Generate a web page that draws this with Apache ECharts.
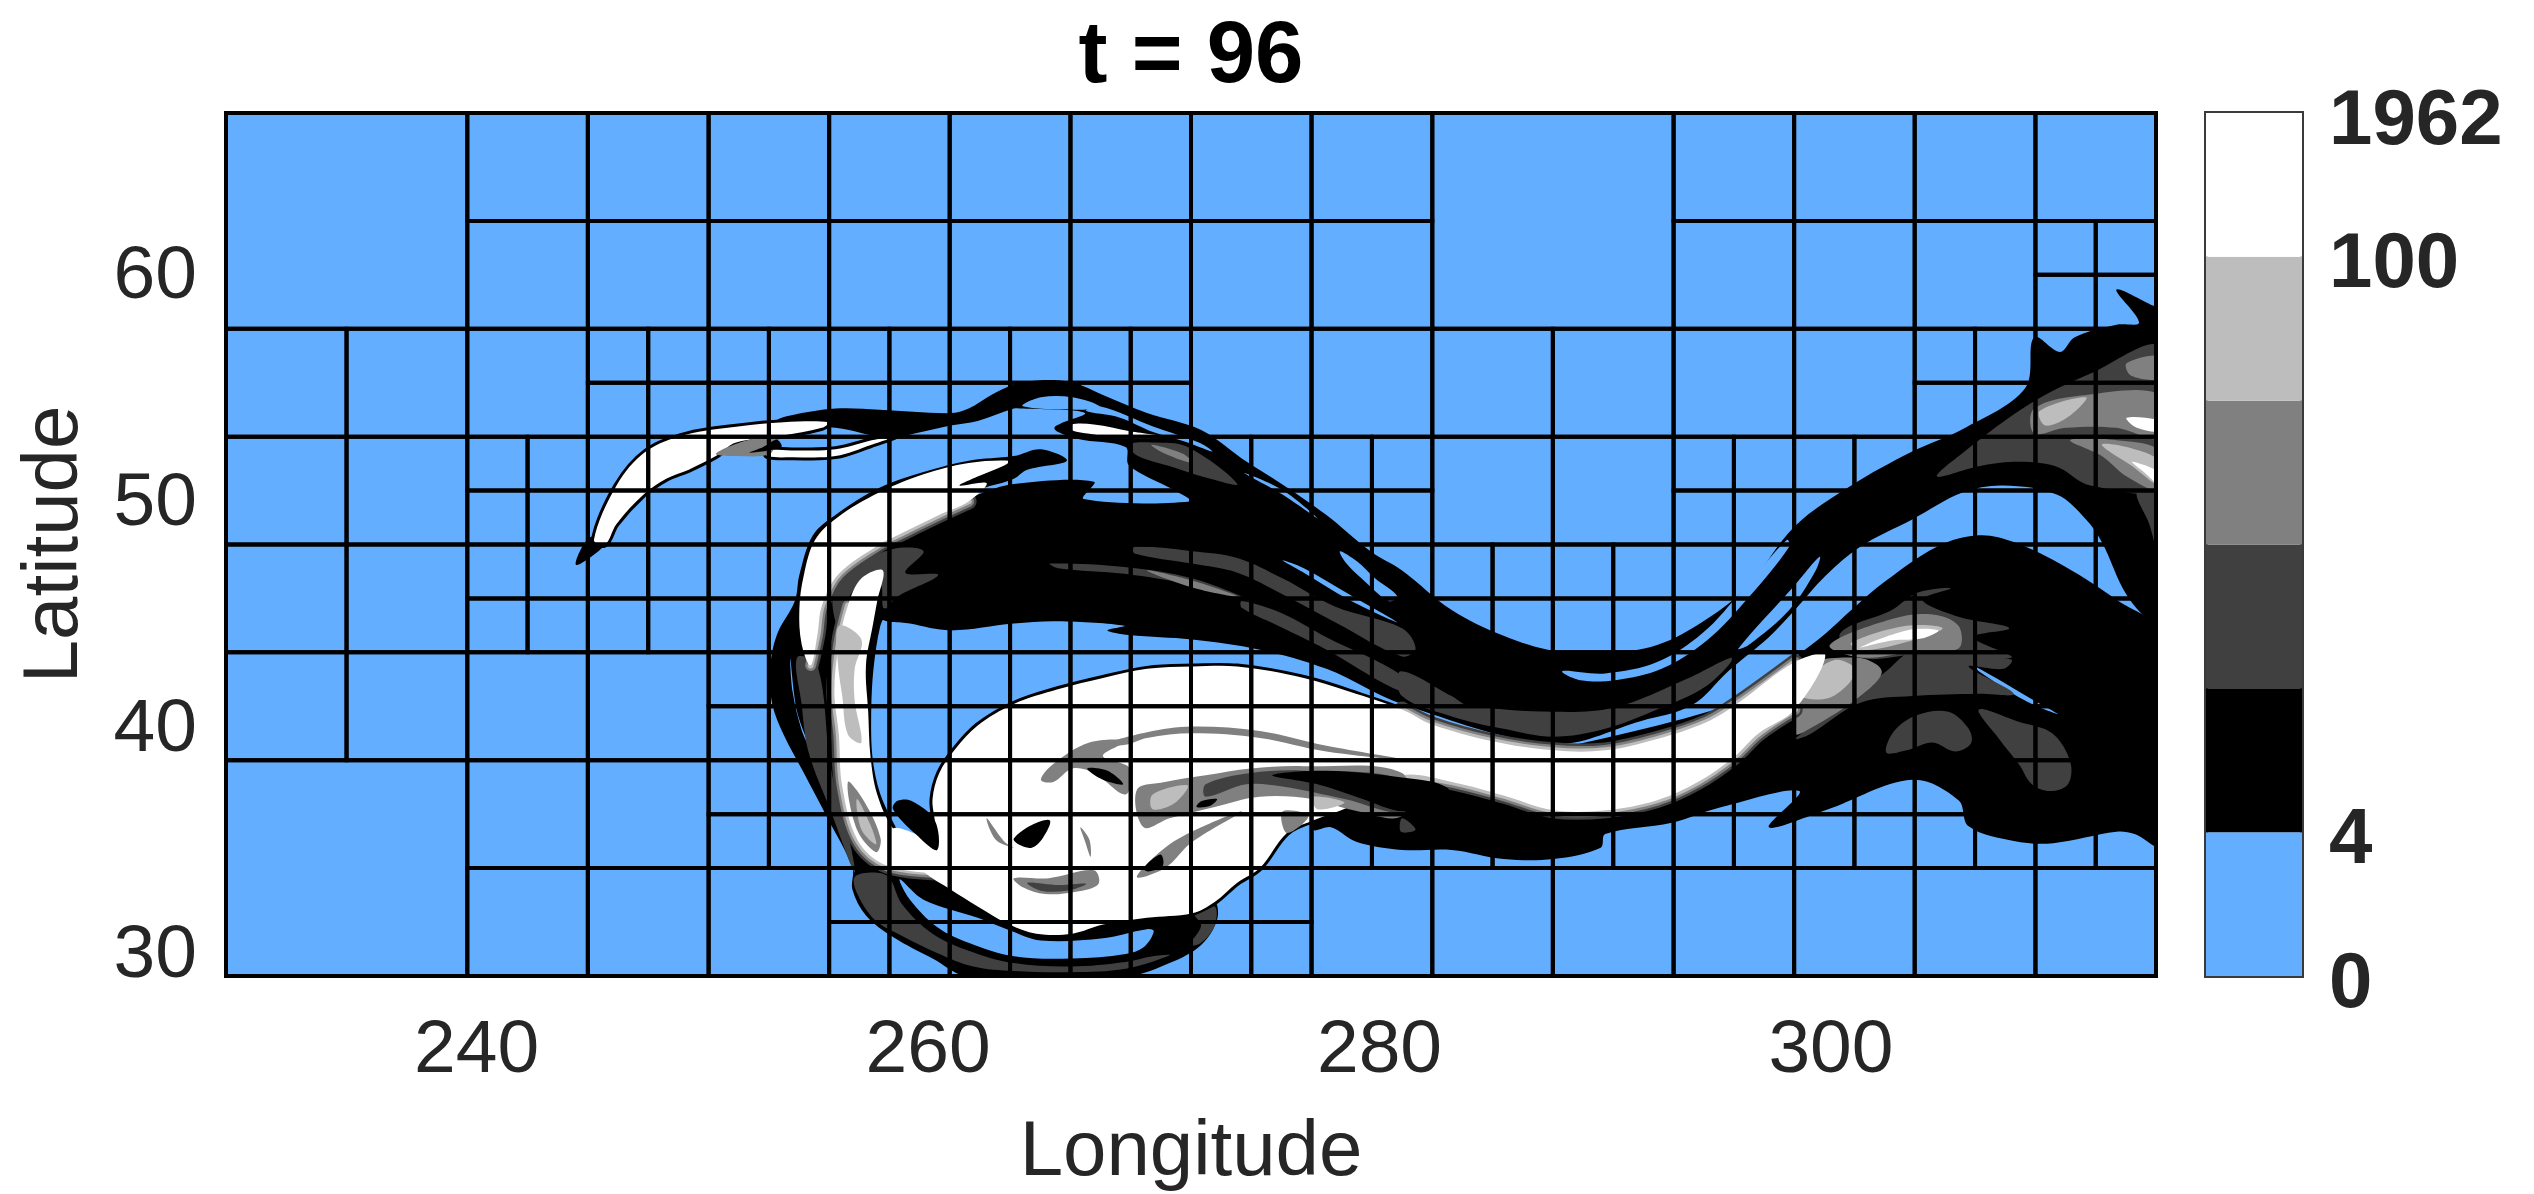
<!DOCTYPE html>
<html><head><meta charset="utf-8">
<style>html,body{margin:0;padding:0;background:#fff}#c{width:2534px;height:1194px}</style>
<script src="https://cdn.jsdelivr.net/npm/echarts@6/dist/echarts.min.js"></script>
</head><body><div id="c"></div>
<script>
// ---------- tick labels and colour-bar data ----------
const lonTicks = [240, 260, 280, 300];
const latTicks = [30, 40, 50, 60];
const bandLabels = { 0: '0', 1: '4', 5: '100', 6: '1962' };
const bandWidths = [1, 1, 1, 1, 1, 1];
// ---------- mesh (adaptive grid) ----------
const lonEdges = [228.9,234.24,239.59,244.93,250.28,255.62,260.96,266.31,271.65,276.99,282.34,287.68,293.03,298.37,303.71,309.06,314.4];
const latEdges = [67.06,62.29,57.53,52.76,47.995,43.23,38.46,33.7,28.93];
const meshLevels = [
 '0011111111001111',
 '0011111111001112',
 '1112222211111122',
 '1122222222112222',
 '1122222222222222',
 '1111222222222222',
 '0011222222222222',
 '0011122221111111'
];
// ---------- field contours, [lon, lat] ----------
const bandBlack = [[253.3,53.5],[253.9,53.7],[255.9,54.0],[257.85,53.95],[261.0,53.8],[261.8,54.0],[262.8,54.6],[263.8,55.05],[265,55.25],[266.4,55.15],[267.75,54.6],[269.7,53.8],[272.1,53.05],[273.9,51.8],[275.7,50.65],[277.65,49.3],[279.6,47.7],[281,46.85],[283.2,45.1],[285.5,43.96],[287.7,43.3],[290,43.2],[292.3,43.55],[294.5,44.7],[296.35,46.2],[298.4,48.8],[300.9,50.6],[303.6,52.1],[305.85,53.1],[308.6,54.9],[309.0,57.15],[310.15,56.5],[310.8,57.15],[312.65,57.7],[313.65,57.8],[312.65,59.26],[314.4,58.5],[314.6,58.5],[314.6,44.3],[314.4,44.3],[313.1,45.76],[312,48.1],[311.3,49.1],[310,50.2],[307.65,50.6],[305.85,50.3],[303.6,49.1],[301.3,47.9],[299.75,46.6],[298.4,45.1],[297.25,43.9],[295.45,42.4],[293.85,40.9],[291.6,40.2],[287.7,39.2],[281,40.95],[277.65,42.5],[274.7,43.35],[271.7,43.8],[268.9,44],[267.95,44.2],[268.7,44.4],[265.75,44.6],[263.8,44.5],[261,44.2],[259.2,44.5],[257.85,44.8],[258.2,46.5],[258.45,47.8],[260.6,49.5],[262.2,50.2],[263.8,50.67],[267.35,50.77],[266.9,50],[271.6,49.9],[270.9,50.4],[268.9,51.5],[268.75,52.3],[266.6,52.67],[265.6,53.15],[266.95,53.8],[264.2,54.0],[263.8,54],[262.2,53.45],[261,53.25],[259.4,52.9],[258.25,52.7],[255.9,53.15],[253.3,53.3]];
const lowerBlack = [[277.05,36.4],[295.9,41],[298.4,43],[299.75,44.05],[300.9,45.1],[302.45,46.4],[304.7,47.9],[306.55,48.4],[308.1,48.1],[310.4,47],[312.65,45.55],[314.6,44],[314.6,34.7],[313.45,35.2],[312.65,35.3],[309.85,34.8],[308.1,34.9],[306.1,35.55],[305.65,36.7],[303.6,37.6],[299.75,36.25],[297.25,35.5],[298.6,37.1],[295,36.35],[292.95,35.7],[290,35.2],[289.8,34.6],[287.7,34.1],[285.5,34.1],[283.2,34.5],[281,34.5],[279,34.85],[277.85,35.5],[277.05,35.4]];
const arcBlack = [[263.8,51.9],[261.8,51.7],[259.8,51.2],[257.85,50.5],[255.9,49.3],[254.9,48.4],[254.3,46.65],[254.1,45.5],[253.3,44],[253,42.5],[253.1,40.95],[253.6,39.6],[254.5,37.9],[255.5,36],[256.65,33.7],[256.65,32.75],[257.25,31.6],[258.45,30.65],[260.2,29.7],[261.8,28.9],[268.75,28.9],[270.7,29.5],[272.1,30.3],[272.8,31.4],[272.7,32.2],[271.7,32],[265.75,31.6],[262.2,32.2],[259.8,33.7],[258.45,35.45],[257.75,36.95],[257.4,38.65],[257.35,40.6],[257.45,42.5],[257.75,44.4],[258.05,45.05],[261.8,50.1],[263.8,50.9],[264.4,51.3],[266.15,51.7],[265,52.2]];
const tailTip = [[244.4,47.1],[245.0,48.3],[245.8,48.2],[245.4,47.7]];
const triangleBlack = [[258.65,36.67],[259.25,36.67],[260.3,35.8],[260.4,34.5],[259.45,35.2],[258.45,36.3]];
const holeTop = [[264.2,54.1],[265,54.5],[266.4,54.5],[267.6,54.1],[266.9,53.95]];
const slitTop = [[267.6,54.1],[270,53.2],[272,52.5],[272.6,52.1],[271.5,52.5],[270,52.95],[268.5,53.6],[267,53.9]];
const slitA = [[274,51.15],[275.7,50.2],[277.25,49.15],[275.7,50.4]];
const slitB = [[275.7,47.3],[276.65,46.95],[278.65,45.8],[280.8,44.55],[278.65,45.55],[276.65,46.75]];
const slitC = [[278.25,47.7],[279,47.25],[279.8,46.5],[280.8,45.7],[280.4,45.5],[279.2,46.5],[278.5,47.2]];
const slitD = [[288.1,42.4],[290,42.3],[292.3,42.8],[294.3,44.07],[296.1,46],[298.05,48.2],[298.15,47.9],[296.35,45.65],[294.5,43.75],[292.5,42.5],[290.45,42],[288.9,42]];
const slitE = [[295.9,43.4],[298.4,46.2],[299.5,47.45],[299.3,46.8],[298.15,45.1],[296.35,43.55]];
const slitF = [[306.4,42.6],[309,41.1],[310.05,40.5],[308.6,41.1],[306.55,42.4]];
const holeLower = [[258.75,33.2],[259.8,32.3],[262.2,31.5],[263.6,30.95],[265,30.5],[267.75,30.6],[269.7,31],[270,30.9],[269.55,30.2],[268.75,29.9],[266.4,29.7],[263.8,29.8],[261.8,30.4],[260.4,31.1],[259.2,32.3]];
const slitArc = [[253.9,42.95],[254,41.5],[254.4,39.8],[254.8,38.95],[254.2,40.6]];
const darkUpper = [[268.9,52.4],[269.9,52.5],[271.5,52.3],[273.7,50.67],[272.3,50.95],[270.9,51.4],[269.3,51.9]];
const darkRibbon1 = [[269.15,47.9],[271.7,47.7],[273.7,47.4],[275.7,46.5],[278.05,45.25],[281,44.3],[281.6,43.4],[281,43.05],[278.05,44.55],[275.7,45.8],[273.7,46.75],[271.7,47.15],[269.15,47.6]];
const darkRibbon2 = [[265.4,47.15],[268.7,47],[271.7,46.5],[274.3,45.5],[271.7,46.2],[268.7,46.7],[265.75,46.95]];
const darkRibbon3 = [[273.9,45.5],[275.7,44.95],[277.65,43.9],[281,42.2],[281,41.5],[277.65,43.35],[275.3,44.5],[273.9,45.2]];
const darkRibbon4 = [[283.9,40.9],[287.7,40.6],[290.45,40.8],[293.6,42.05],[295.65,43],[294.5,41.75],[292.3,40.7],[290,39.85],[287.7,39.5],[285.5,39.85],[283.2,40.4],[281,41.3],[280.95,42.4],[283.2,41.3]];
const darkSpot = [[281,35.9],[281.6,35.4],[280.95,35.3]];
const darkNE = [[304.7,51],[305.85,52.05],[308.8,54.2],[311.5,55.55],[314.6,56.7],[314.6,50.6],[311.5,50.6],[309.95,51.45],[308.1,51.65],[306.55,51.45]];
const darkEdge = [[313.55,50.3],[314.6,50.2],[314.6,47.25],[314.1,48.9]];
const darkLobe1 = [[302.45,38.8],[302.8,39.75],[303.8,40.45],[305.2,40.6],[306.1,39.85],[306.2,39.2],[305.5,38.85],[304.5,39.25],[303.35,38.9]];
const darkLobe2 = [[306.55,40.7],[308.35,40.15],[309.8,39.65],[310.6,38.4],[310.5,37.4],[309.7,37.1],[308.9,37.4],[308.35,38.25],[307.45,39.4]];
const darkJetEnd = [[300.2,40.7],[302.45,42.4],[303.6,43.25],[306.55,43],[308,42.9],[307.65,42.5],[306.1,42.6],[308.1,41.4],[306.55,41.4],[303.6,41.3],[301.3,41],[299.05,39.6],[298.4,39.4]];
const darkJetTop = [[300.4,44.05],[302.7,45.1],[303.8,45.85],[305.3,46.05],[304.05,45.55],[305.65,44.8],[307.9,44.3],[306.3,43.9],[308,43],[303.6,43.1],[301.3,43]];
const darkLowerRibbon = [[256.75,33.3],[256.85,32.6],[257.65,31.4],[258.85,30.7],[260.4,29.95],[262,29.35],[263.8,29.15],[266.35,29.1],[268.75,29.25],[270.7,29.85],[269.95,29.8],[268.75,29.55],[266.35,29.35],[263.8,29.5],[261.8,30.05],[260.2,30.8],[258.85,32.1],[258.25,33.3],[257.55,33.5]];
const darkLowerRight = [[271.8,31.7],[272.7,32],[272.7,31.15],[272.1,30.4],[271.6,30.3],[272.1,31.15]];
const darkArc = [[255.85,46.1],[256.85,47.05],[258.45,47.8],[259.8,47.7],[259,46.75],[260.45,46.65],[258.65,45.7],[258.05,45.15],[257.85,46.3],[256.65,45.9],[256.25,44.6],[255.9,44.6]];
const darkArcOuter = [[254.2,43],[255.1,42.65],[255.7,38.1],[256.45,35.25],[256.75,33.5],[255.7,36.2],[254.7,38.85],[254.4,40.95]];
const grayUpper = [[269.9,52.4],[271.3,52],[271.7,51.6],[270.5,52.0]];
const grayRibbon = [[269.7,46.85],[271.7,46.4],[273.7,45.7],[271.7,46.1]];
const grayNE1 = [[313.1,56],[314.6,56.3],[314.6,55.35],[313.3,55.45]];
const grayNE2 = [[309,54],[311.3,54.6],[314.6,54.6],[314.6,52.7],[312.65,53.15],[310.4,53.15],[309,52.9]];
const grayNE3 = [[310.6,52.6],[312.65,52.6],[314.6,52.1],[314.6,50.4],[313.1,51],[312,51.9]];
const grayJetTop = [[299.95,43.55],[302.7,44.7],[304.5,44.9],[305.65,44.4],[305.65,43.4],[303.6,43.25],[301.3,43]];
const grayJetMid = [[298.4,42.4],[301.1,43],[302.25,42.4],[301.3,41.3],[299.05,39.85],[298.4,39.65]];
const grayArcSmudge = [[256.45,37.5],[257.2,36.6],[257.9,35],[257.7,34.4],[256.85,35.4]];
const lightNE1 = [[309.25,53.9],[311.3,54.5],[310.6,53.7],[309.5,53.25]];
const lightNE3 = [[312,52.4],[313.1,52.3],[314.6,51.65],[314.6,50.6],[313.35,51.45]];
const lightJetTop = [[300.9,43.65],[303.35,44.4],[304.95,44.3],[303.6,43.75],[301.3,43.3]];
const lightJetMid = [[298.85,41.95],[300.2,42.9],[301.1,42.4],[300,41.25],[298.6,41.3]];
const lightArcStreak = [[256.05,44.4],[257.05,43.8],[256.75,42.5],[256.75,41.1],[257.05,39.25],[256.45,39.6],[256.2,41.3],[256,42.85]];
const lightArcSmudge = [[256.85,36.75],[257.45,35.6],[257.7,34.75],[257.05,35.4]];
const tailWhite = [[245.2,48.2],[246.2,50.6],[247.5,52.1],[249.3,52.85],[251.5,53.2],[253.6,53.4],[255.6,53.4],[255.3,53.15],[253.5,52.8],[251.5,52.5],[250.6,51.9],[249.4,51.3],[248.4,50.9],[247.4,50.2],[246.2,48.9],[245.7,48.0]];
const tailStrand = [[252.8,52.15],[254.0,52.15],[255.9,52.2],[257.5,52.6],[258.6,52.8],[257.5,52.4],[255.9,51.9],[254.0,51.85],[252.9,51.9]];
const streakWhite = [[266.35,53.3],[267.35,53.3],[268.95,53],[270.5,52.75],[268.95,52.67],[267.35,52.86],[266.35,53.05]];
const jetWhite = [[260.3,35.8],[260.2,36.75],[260.5,37.9],[261.2,38.95],[262.2,40],[263.8,40.95],[265.75,41.6],[267.75,42.1],[269.7,42.5],[271.7,42.6],[273.7,42.6],[276.65,42.1],[278.65,41.5],[281,40.7],[282.3,40.05],[285,39.3],[287.7,38.9],[290,38.9],[292.3,39.4],[294.5,40.15],[295.9,41],[298.4,42.8],[299.75,43.1],[298.4,40.7],[296.8,39.65],[295.7,38.6],[294.1,37.5],[292.3,36.7],[290,36.25],[287.7,36.25],[285.5,36.9],[283.2,37.5],[281,37.8],[279.5,36.9],[278.65,36.4],[277.05,35.8],[275.9,35.25],[274.7,33.7],[273.7,33.05],[272.7,32.2],[271.7,31.7],[269.7,31.5],[267.75,31.2],[266.4,30.8],[264.8,30.8],[263.6,31.2],[262.2,32],[261,32.75],[259.85,33.5],[258.85,34.6],[258.45,35.45],[259.45,35.2],[260.4,34.5]];
const crescentWhite = [[263.6,51.7],[261.8,51.6],[259.8,51.1],[257.85,50.3],[256,49.2],[255,48.2],[254.5,46.65],[254.3,45.15],[254.4,43.6],[254.8,42.65],[255.1,44],[255.3,45.3],[256.05,46.7],[257.85,48],[258.65,48.4],[260.6,49.35],[261.8,49.9],[262.6,50.7],[261.4,50.6],[262.2,51],[263.4,51.5]];
const arcInnerWhite = [[257.05,46.5],[258,46.85],[257.75,45.5],[257.55,44.4],[257.25,42.65],[257.35,40.6],[257.45,38.65],[257.75,36.95],[258.45,35.45],[259.85,33.95],[260.6,33.5],[258.2,33.8],[256.9,34.9],[256.2,37.3],[256.05,39.6],[255.85,41.5],[256.05,43.6],[256.45,45.3]];
const whiteJetTop = [[301.3,43.45],[303.35,44.2],[304.75,44.2],[304.05,43.85],[302.7,43.75]];
const whiteNE2 = [[313.1,53.6],[314.6,53.45],[314.6,53],[313.55,53.15]];
const whiteNE3 = [[313.35,51.65],[314.6,51.15],[314.6,50.6],[313.8,51.25]];
// blob interior, painted over the white
const blobThinLine = [[267.75,39.15],[269.7,39.7],[271.7,39.95],[274.7,39.75],[277.65,39.1],[281,38.5],[277.65,38.85],[274.7,39.45],[271.7,39.65],[269.7,39.45],[268.75,39.15]];
const blobThickGray = [[265,37.6],[265.55,38.3],[267.15,39.25],[268.75,39.3],[267.75,38.65],[268.95,38.1],[268.75,36.95],[267.35,37.9],[266.4,38.1],[265.55,37.5]];
const blobBandGray = [[269.25,37.15],[270.5,37.5],[272.3,37.8],[274.3,38.1],[276.65,38.2],[281,37.9],[281,36],[278.65,36.3],[277.05,36.75],[274.7,36.85],[272.7,36.4],[270.7,35.9],[269.55,35.5]];
const blobBandDark = [[272.3,37.4],[274.3,37.9],[276.65,38],[281,37.6],[281,36.2],[278.45,36.75],[275.7,37.3],[274.1,37.4],[272.3,36.85]];
const blobBandLight = [[269.95,36.95],[271.5,37.35],[270.9,36.55],[269.95,36.3]];
const blobBandLight2 = [[277.05,36.85],[278.45,36.6],[277.25,36.3]];
const blobTongue = [[275.25,37.8],[277.65,38],[281,37.7],[283,37.25],[283,36.4],[281,36.2],[279.25,36.75],[277.25,37.4]];
const blobCrescentGray = [[263.8,33.25],[265.35,33.25],[267.35,33.6],[267.55,33],[266.55,32.65],[265.2,32.55],[264.2,32.85]];
const blobCrescentDark = [[264.4,33.05],[265.8,32.95],[267,33],[266.15,32.7],[265,32.7]];
const blobArcGray = [[262.6,35.9],[263.4,34.85],[263.8,34.6],[263,34.95]];
const blobArcGray2 = [[266.75,35.5],[267.15,34.95],[267.2,34.2],[266.95,34.9]];
const blobDiagonal = [[269.25,33.3],[270.5,34.6],[272.1,35.5],[273.9,36.2],[271.7,34.85],[270.5,33.7]];
const blobEndGray = [[275.7,36.2],[276.85,36],[275.9,35.25]];
const blobEye = [[263.8,35],[264.6,35.6],[265.4,35.8],[265.1,35.05],[264.6,34.6],[264,34.75]];
const blobBlotch = [[267.05,38.1],[267.95,38],[268.65,37.4],[267.75,37.6]];
const blobDiamond = [[272.1,36.65],[272.8,36.75],[272.5,36.45],[271.9,36.4]];
const blobSpot = [[269.55,33.7],[270.3,34.3],[270.4,33.8],[269.75,33.55]];
const tailSmudge = [[250.6,52.0],[252,52.6],[253.2,52.7],[253,52],[251.5,51.9]];
const tailSmudgeBlack = [[252.1,52.05],[253.5,52.3],[253.3,52.62],[252.7,52.3]];
// edges of the white bands
const blobTopEdge = [[260.3,35.8],[260.2,36.75],[260.5,37.9],[261.2,38.95],[262.2,40],[263.8,40.95],[265.75,41.6],[267.75,42.1],[269.7,42.5],[271.7,42.6],[273.7,42.6],[276.65,42.1],[278.65,41.5],[281,40.7]];
const blobLowEdge = [[277.05,35.8],[275.9,35.25],[274.7,33.7],[273.7,33.05],[272.7,32.2],[271.7,31.7]];
const jetLowerEdge = [[281,37.8],[283.2,37.5],[285.5,36.9],[287.7,36.25],[290,36.25],[292.3,36.7],[294.1,37.5],[295.7,38.6],[296.8,39.65],[298.4,40.7]];
const jetUpperEdge = [[281,40.7],[282.3,40.05],[285,39.3],[287.7,38.9],[290,38.9],[292.3,39.4],[294.5,40.15],[295.9,41],[298.4,42.8]];
const crescentEdge = [[254.8,42.65],[255.1,44],[255.3,45.3],[256.05,46.7],[257.85,48],[258.65,48.4],[260.6,49.35],[261.8,49.9]];
const arcInnerEdge = [[256.45,45.3],[256.05,43.6],[255.85,41.5],[256.05,39.6],[256.2,37.3],[256.9,34.9],[258.2,33.8],[260.6,33.5]];
const arcRightEdge = [[258.05,45.05],[257.75,44.4],[257.45,42.5],[257.35,40.6],[257.4,38.65],[257.75,36.95],[258.45,35.45]];

// ---------- paint order ----------
const BLUE='#64aeff',WHITE='#ffffff',LIGHT='#bdbdbd',GRAY='#808080',DARK='#404040',BLACK='#000000';
const drawList = [];
function fill(color, patches){ patches.forEach(p => drawList.push({p, fill:color})); }
function edge(color, width, lines){ lines.forEach(p => drawList.push({p, stroke:color, width, open:true})); }
function outline(width, patches){ patches.forEach(p => drawList.push({p, stroke:BLACK, width})); }

fill(BLACK,[bandBlack,lowerBlack,arcBlack,tailTip]);
fill(BLUE,[holeTop,slitTop,slitA,slitB,slitC,slitD,slitE,slitF,holeLower,slitArc]);
fill(DARK,[darkUpper,darkRibbon1,darkRibbon2,darkRibbon3,darkRibbon4,darkSpot,darkNE,darkEdge,darkLobe1,darkLobe2,darkJetEnd,darkJetTop,darkLowerRibbon,darkLowerRight,darkArc,darkArcOuter]);
fill(GRAY,[grayUpper,grayRibbon,grayNE1,grayNE2,grayNE3,grayJetTop,grayJetMid]);
fill(LIGHT,[lightNE1,lightNE3,lightJetTop,lightJetMid]);
const haloLines=[jetLowerEdge,jetUpperEdge,crescentEdge,arcInnerEdge];
outline(6,[tailWhite,tailStrand]);
edge(BLACK,6,[blobTopEdge,blobLowEdge,arcRightEdge]);
edge(DARK,16,haloLines); edge(GRAY,11,haloLines); edge(LIGHT,6,haloLines);
fill(WHITE,[jetWhite,crescentWhite,arcInnerWhite,tailWhite,tailStrand,streakWhite,whiteJetTop,whiteNE2,whiteNE3]);
fill(LIGHT,[lightArcStreak]);
fill(GRAY,[grayArcSmudge,blobThinLine,blobThickGray,blobBandGray,blobCrescentGray,blobArcGray,blobArcGray2,blobDiagonal,blobEndGray,tailSmudge]);
fill(LIGHT,[lightArcSmudge,blobBandLight,blobBandLight2]);
fill(DARK,[blobBandDark,blobCrescentDark]);
fill(BLACK,[blobTongue,blobEye,blobBlotch,blobDiamond,blobSpot,triangleBlack,tailSmudgeBlack]);

// mesh rectangles from the level map
const meshCells = [];
meshLevels.forEach((row, r) => {
  for (let c = 0; c < 16; c++) {
    const lvl = row[c];
    const x0 = lonEdges[c], x1 = lonEdges[c+1], y1 = latEdges[r], y0 = latEdges[r+1];
    if (lvl === '0') {
      if (c % 2 === 0 && r % 2 === 0) meshCells.push([lonEdges[c], latEdges[r+2], lonEdges[c+2], latEdges[r]]);
    } else if (lvl === '1') {
      meshCells.push([x0,y0,x1,y1]);
    } else {
      const xm=(x0+x1)/2, ym=(y0+y1)/2;
      meshCells.push([x0,y0,xm,ym],[xm,y0,x1,ym],[x0,ym,xm,y1],[xm,ym,x1,y1]);
    }
  }
});

const FONT='"Liberation Sans",Arial,sans-serif', TXT='#262626';
const chart = echarts.init(document.getElementById('c'), null, {renderer:'canvas'});
chart.setOption({
  animation:false,
  backgroundColor:'#fff',
  title:{text:'t = 96',left:1186,top:10,textAlign:'center',
    textStyle:{fontFamily:FONT,fontSize:87,fontWeight:'bold',color:'#000'}},
  grid:[
    {left:226,top:113,width:1930,height:863,show:true,backgroundColor:BLUE,borderWidth:0,outerBoundsMode:'none',containLabel:false},
    {left:2206,top:113,width:96,height:863,show:true,backgroundColor:'#fff',borderColor:'#3a3a3a',borderWidth:4,outerBoundsMode:'none',containLabel:false}
  ],
  xAxis:[
    {type:'value',gridIndex:0,min:228.9,max:314.4,name:'Longitude',nameLocation:'middle',nameGap:138,
     nameTextStyle:{fontFamily:FONT,fontSize:78,color:TXT},
     axisLine:{show:false},axisTick:{show:false},splitLine:{show:false},
     axisLabel:{customValues:lonTicks,margin:38,fontFamily:FONT,fontSize:75,color:TXT}},
    {type:'category',gridIndex:1,data:['band'],show:false}
  ],
  yAxis:[
    {type:'value',gridIndex:0,min:28.93,max:67.06,name:'Latitude',nameLocation:'middle',nameGap:132,nameRotate:90,
     nameTextStyle:{fontFamily:FONT,fontSize:78,color:TXT},
     axisLine:{show:false},axisTick:{show:false},splitLine:{show:false},
     axisLabel:{customValues:latTicks,margin:29,formatter:v=>'{a|'+v+'}',
       rich:{a:{fontFamily:FONT,fontSize:75,color:TXT,padding:[10,0,0,0]}}}},
    {type:'value',gridIndex:1,min:0,max:6,position:'right',
     axisLine:{show:false},axisTick:{show:false},splitLine:{show:false},
     axisLabel:{customValues:[0,1,5,6],margin:27,formatter:v=>'{a|'+bandLabels[v]+'}',
       rich:{a:{fontFamily:FONT,fontSize:78,fontWeight:'bold',color:TXT,padding:[18,0,0,0]}}}}
  ],
  series:[
    {type:'custom',xAxisIndex:0,yAxisIndex:0,coordinateSystem:'cartesian2d',clip:true,silent:true,z:2,
     data:drawList.map((d,i)=>({value:[d.p[0][0],d.p[0][1],i]})),
     renderItem:(params,api)=>{
       const d=drawList[params.dataIndex];
       const points=d.p.map(q=>api.coord(q));
       return {type:d.open?'polyline':'polygon',shape:{points,smooth:0.35},
         style:{fill:d.open?'none':(d.fill||'none'),stroke:d.stroke||null,lineWidth:d.width||0,lineJoin:'round',lineCap:'round'}};
     }},
    {type:'custom',xAxisIndex:0,yAxisIndex:0,coordinateSystem:'cartesian2d',clip:false,silent:true,z:3,
     data:meshCells.map(c=>({value:c})),
     renderItem:(params,api)=>{
       const c=meshCells[params.dataIndex];
       const a=api.coord([c[0],c[3]]), b=api.coord([c[2],c[1]]);
       return {type:'rect',shape:{x:a[0],y:a[1],width:b[0]-a[0],height:b[1]-a[1]},
         style:{fill:'none',stroke:'#000',lineWidth:4}};
     }},
    ...bandWidths.map((w,i)=>({type:'bar',xAxisIndex:1,yAxisIndex:1,stack:'cb',barWidth:'100%',silent:true,z:2,
      data:[w],itemStyle:{color:[BLUE,BLACK,DARK,GRAY,LIGHT,WHITE][i]}}))
  ]
});
</script></body></html>
